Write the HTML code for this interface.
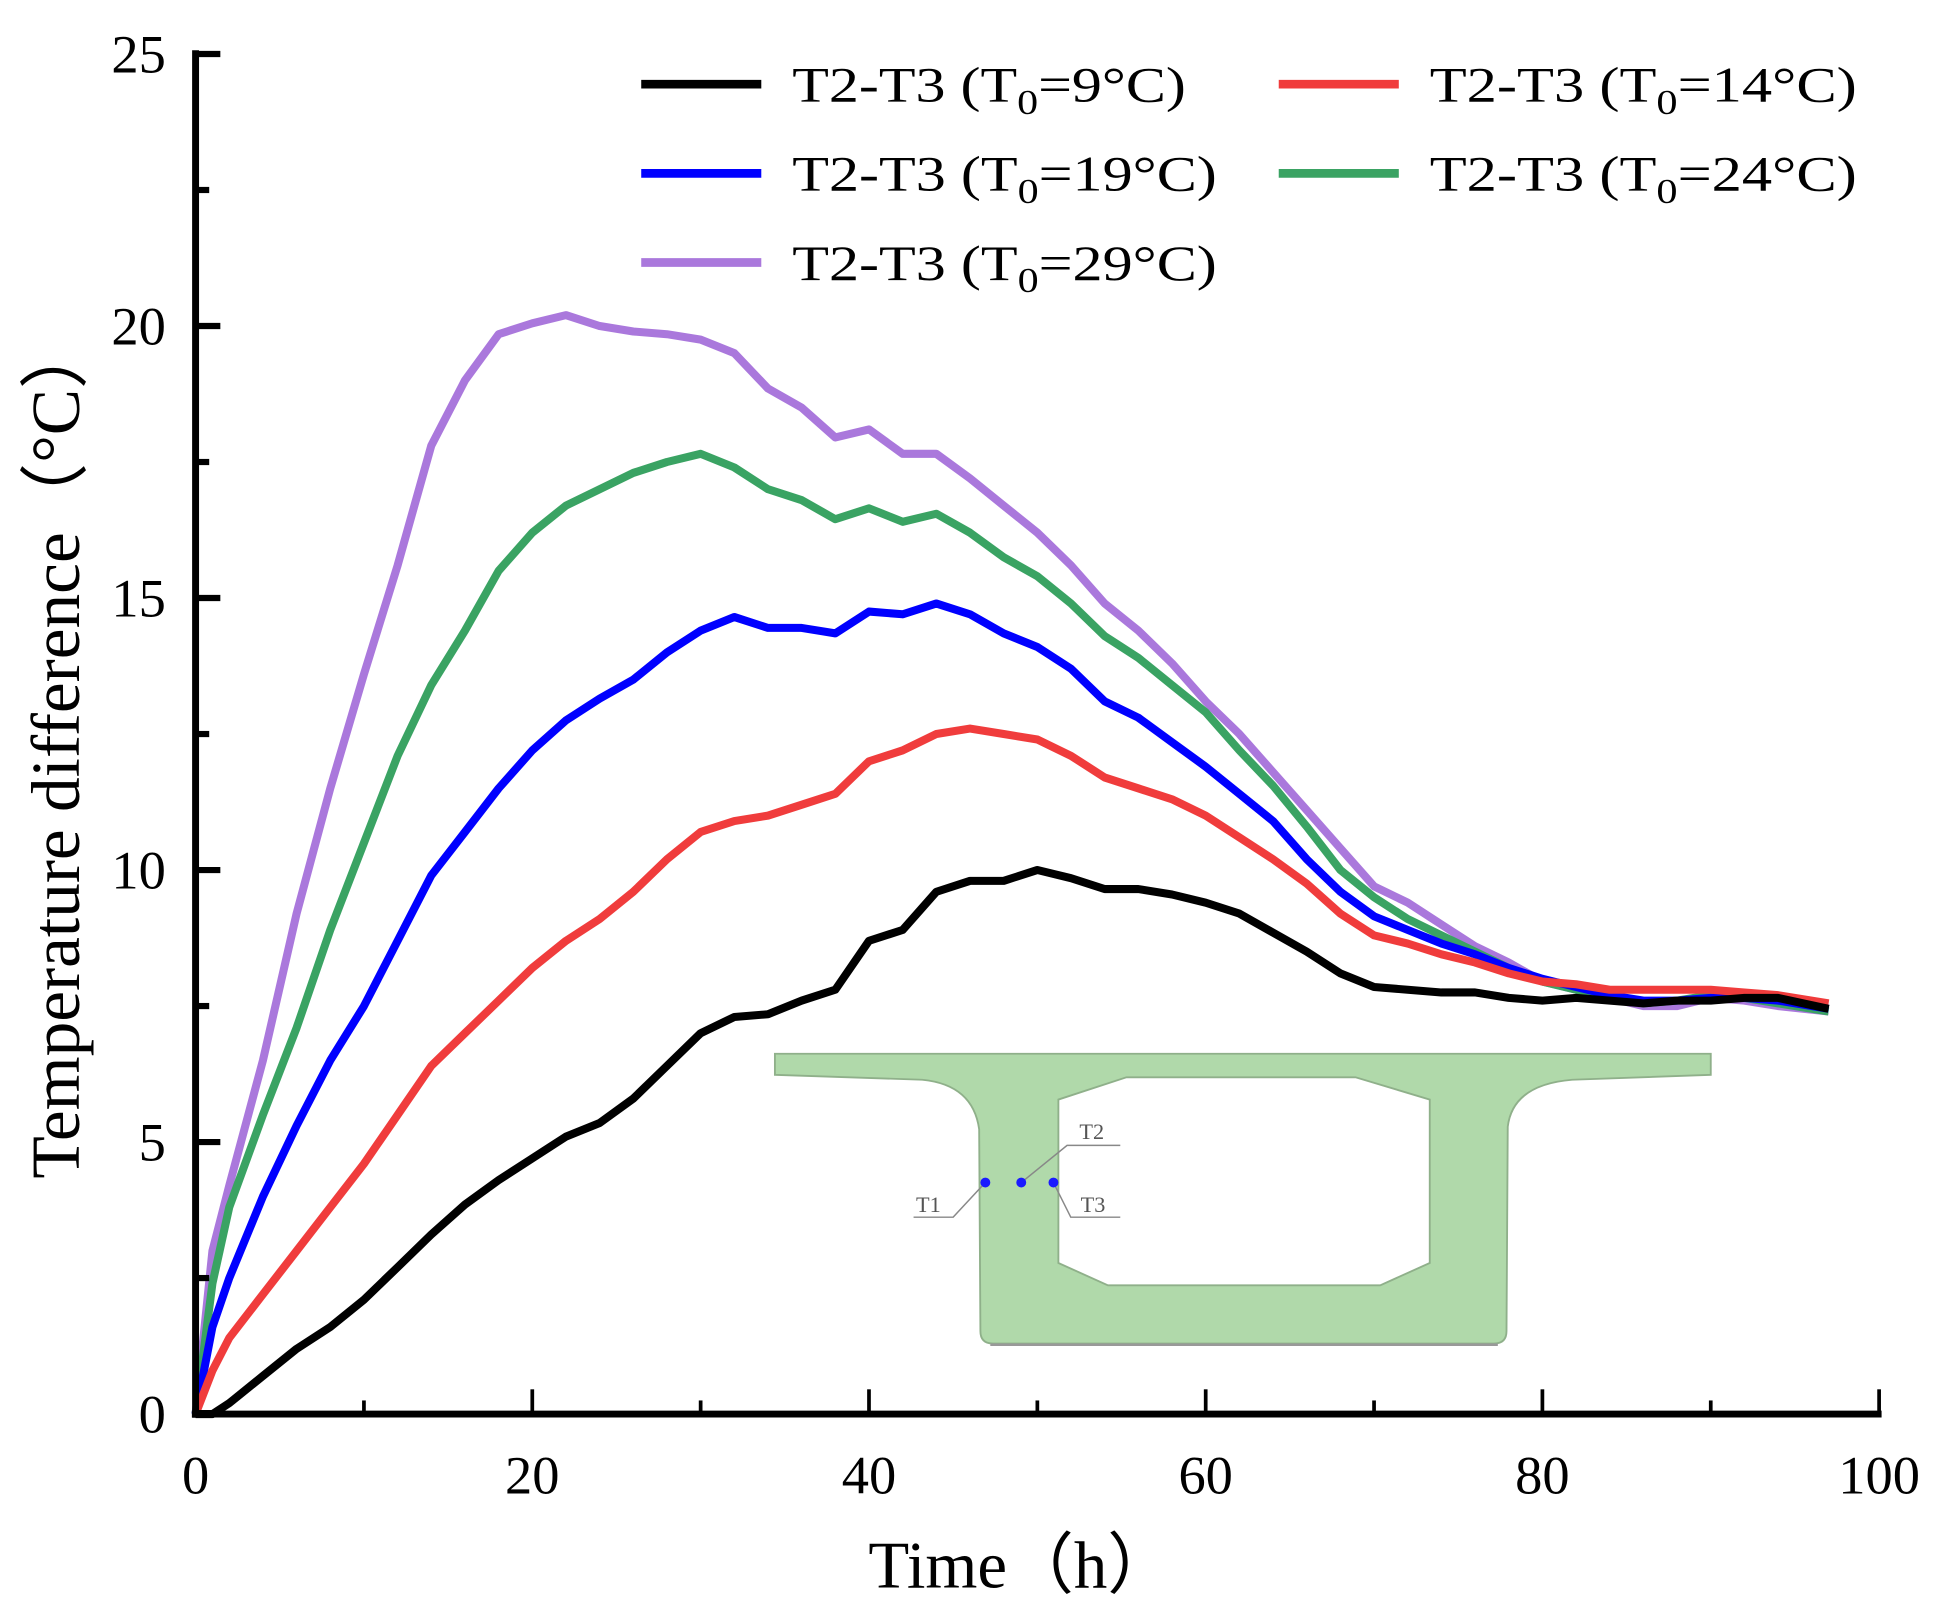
<!DOCTYPE html>
<html><head><meta charset="utf-8"><style>
html,body{margin:0;padding:0;background:#fff;}
svg{display:block;}
text{font-family:"Liberation Serif","DejaVu Serif",serif;}
</style></head><body>
<svg id="chart" width="1941" height="1606" viewBox="0 0 1568 1297" preserveAspectRatio="none" xmlns="http://www.w3.org/2000/svg">
<g id="inset">
 <path d="M626,851 L1382,851 L1382,868 L1270,872 Q1222,876 1218,910 L1217,1075 Q1217,1085 1207,1085 L802,1085 Q792,1085 792,1075 L791,912 Q786,876 745,872 L626,868 Z M855,888 L910,870 L1095,870 L1155,888 L1155,1020 L1115,1038 L895,1038 L855,1020 Z" fill="#b0d9aa" fill-rule="evenodd" stroke="#8fb08a" stroke-width="1.5"/>
 <line x1="800" y1="1086" x2="1210" y2="1086" stroke="#999" stroke-width="2"/>
 <g stroke="#888" stroke-width="1.2" fill="none">
  <polyline points="796,955 770,983 738,983"/>
  <polyline points="825,955 862,925 905,925"/>
  <polyline points="851,955 865,983 905,983"/>
 </g>
 <circle cx="796" cy="955" r="4" fill="#1a1aff"/>
 <circle cx="825" cy="955" r="4" fill="#1a1aff"/>
 <circle cx="851" cy="955" r="4" fill="#1a1aff"/>
 <text x="740" y="979" font-size="18" fill="#555">T1</text>
 <text x="872" y="920" font-size="18" fill="#555">T2</text>
 <text x="873" y="979" font-size="18" fill="#555">T3</text>
</g>
<g id="series"></g>
<g id="axes"></g>
<g id="legend"></g>
<text x="825" y="1282" font-size="54" text-anchor="middle">Time（h）</text>
<text transform="translate(64,605) rotate(-90)" font-size="56" text-anchor="middle">Temperature difference（°C）</text>
</svg>
<script>
const times = [0,1,2,4,6,8,10,12,14,16,18,20,22,24,26,28,30,32,34,36,38,40,42,44,46,48,50,52,54,56,58,60,62,64,66,68,70,72,74,76,78,80,82,84,86,88,90,92,94,97];
const t0_9  = [0,0,0.2,0.7,1.2,1.6,2.1,2.7,3.3,3.85,4.3,4.7,5.1,5.35,5.8,6.4,7.0,7.3,7.35,7.6,7.8,8.7,8.9,9.6,9.8,9.8,10.0,9.85,9.65,9.65,9.55,9.4,9.2,8.85,8.5,8.1,7.85,7.8,7.75,7.75,7.65,7.6,7.65,7.6,7.55,7.6,7.6,7.65,7.65,7.45];
const t0_14 = [0,0.8,1.4,2.2,3.0,3.8,4.6,5.5,6.4,7.0,7.6,8.2,8.7,9.1,9.6,10.2,10.7,10.9,11.0,11.2,11.4,12.0,12.2,12.5,12.6,12.5,12.4,12.1,11.7,11.5,11.3,11.0,10.6,10.2,9.75,9.2,8.8,8.65,8.45,8.3,8.1,7.95,7.9,7.8,7.8,7.8,7.8,7.75,7.7,7.55];
const t0_19 = [0,1.6,2.5,4.0,5.3,6.5,7.5,8.7,9.9,10.7,11.5,12.2,12.75,13.15,13.5,14.0,14.4,14.65,14.45,14.45,14.35,14.75,14.7,14.9,14.7,14.35,14.1,13.7,13.1,12.8,12.35,11.9,11.4,10.9,10.2,9.6,9.15,8.9,8.65,8.45,8.2,8.0,7.85,7.7,7.6,7.6,7.65,7.65,7.6,7.45];
const t0_24 = [0,2.4,3.8,5.5,7.1,8.9,10.5,12.1,13.4,14.4,15.5,16.2,16.7,17.0,17.3,17.5,17.65,17.4,17.0,16.8,16.45,16.65,16.4,16.55,16.2,15.75,15.4,14.9,14.3,13.9,13.4,12.9,12.2,11.55,10.8,10.0,9.5,9.1,8.8,8.5,8.2,7.95,7.8,7.65,7.55,7.6,7.7,7.65,7.55,7.4];
const t0_29 = [0,3.0,4.2,6.5,9.2,11.5,13.6,15.6,17.8,19.0,19.85,20.05,20.2,20.0,19.9,19.85,19.75,19.5,18.85,18.5,17.95,18.1,17.65,17.65,17.2,16.7,16.2,15.6,14.9,14.4,13.8,13.1,12.5,11.8,11.1,10.4,9.7,9.4,9.0,8.6,8.3,7.95,7.8,7.65,7.5,7.5,7.65,7.6,7.5,7.4];
const xTicks = [0,20,40,60,80,100];
const yTicks = [0,5,10,15,20,25];
const legendLabels = ["9","14","19","24","29"];

const NS="http://www.w3.org/2000/svg";
const X0=158,X1=1518,Y0=1142,Y1=43.6;
function sx(v){return X0+(v-0)/(100-0)*(X1-X0);}
function sy(v){return Y0-(v-0)/(25-0)*(Y0-Y1);}
function mk(tag,attrs,parent){const e=document.createElementNS(NS,tag);for(const k in attrs)e.setAttribute(k,attrs[k]);parent.appendChild(e);return e;}

const series=[
 {vals:t0_9,color:"#000000",name:"series-t0-9"},
 {vals:t0_14,color:"#f03c3c",name:"series-t0-14"},
 {vals:t0_19,color:"#0000ff",name:"series-t0-19"},
 {vals:t0_24,color:"#3aa363",name:"series-t0-24"},
 {vals:t0_29,color:"#aa78dc",name:"series-t0-29"}
];
const sg=document.getElementById('series');
series.slice().reverse().forEach(s=>{
 const d=times.map((t,i)=>(i?"L":"M")+sx(t).toFixed(1)+","+sy(s.vals[i]).toFixed(1)).join(" ");
 const p=mk('path',{d:d,fill:"none",stroke:s.color,"stroke-width":6.5,"stroke-linejoin":"round"},sg);
 
 
});

const ag=document.getElementById('axes');
const ya=mk('line',{x1:sx(0),y1:sy(25)-3,x2:sx(0),y2:sy(0)+3,stroke:"#000","stroke-width":5.6},ag);


const xa=mk('line',{x1:sx(0)-3,y1:sy(0),x2:sx(100)+2,y2:sy(0),stroke:"#000","stroke-width":5.6},ag);


for(let v=0;v<=25;v+=2.5){
 const major=(v%5===0);
 mk('line',{x1:sx(0),y1:sy(v),x2:sx(0)+(major?20:11),y2:sy(v),stroke:"#000","stroke-width":5},ag);
}
for(let v=0;v<=100;v+=10){
 const major=(v%20===0);
 mk('line',{x1:sx(v),y1:sy(0),x2:sx(v),y2:sy(0)-(major?20:11),stroke:"#000","stroke-width":3},ag);
}
yTicks.forEach(v=>{
 const t=mk('text',{x:134,y:sy(v)+15,"font-size":44,"text-anchor":"end"},ag);
 t.textContent=String(v);
 
 
});
xTicks.forEach(v=>{
 const t=mk('text',{x:sx(v),y:1206,"font-size":44,"text-anchor":"middle"},ag);
 t.textContent=String(v);
 
 
});

const lg=document.getElementById('legend');
const lpos=[[518,68,958],[1033,68,1500],[518,140,983],[1033,140,1500],[518,212,983]];
const lorder=[0,1,2,3,4];
lorder.forEach((si,i)=>{
 const [lx,ly,tend]=lpos[i];
 const s=series[si];
 const ln=mk('line',{x1:lx,y1:ly,x2:lx+97,y2:ly,stroke:s.color,"stroke-width":7},lg);
 
 
 const tx=lx+122;
 const t=mk('text',{x:tx,y:ly+14,"font-size":40,textLength:tend-tx,lengthAdjust:"spacingAndGlyphs"},lg);
 
 
 const a=document.createElementNS(NS,'tspan');a.textContent="T2-T3 (T";t.appendChild(a);
 const b=document.createElementNS(NS,'tspan');b.setAttribute('font-size','28');b.setAttribute('dy','10');b.textContent="0";t.appendChild(b);
 const c=document.createElementNS(NS,'tspan');c.setAttribute('dy','-10');c.textContent="="+legendLabels[si]+"°C)";t.appendChild(c);
});
</script>
</body></html>
